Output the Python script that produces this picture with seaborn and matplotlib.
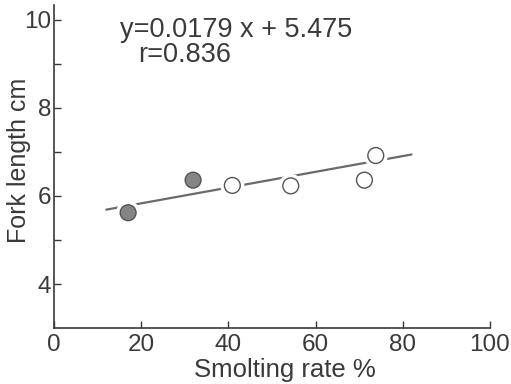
import numpy as np
import pandas as pd
import matplotlib
matplotlib.use("Agg")
import matplotlib.pyplot as plt
import seaborn as sns

# Data
smolting_rate = [17.0, 31.9, 40.9, 54.3, 71.2, 73.8]
fork_length = [5.62, 6.36, 6.24, 6.23, 6.36, 6.92]
group = ["filled", "filled", "open", "open", "open", "open"]

# Regression line as printed on the chart
slope = 0.0179
intercept = 5.475
fit_x = [12.0, 82.0]

x_ticks = [0, 20, 40, 60, 80, 100]
y_ticks = [4, 6, 8, 10]
y_minor = [5, 7, 9]

sns.set_style("ticks")
plt.rcParams["font.family"] = ["Liberation Sans", "DejaVu Sans"]

ink = "#3a3a3a"
df = pd.DataFrame({"rate": smolting_rate, "length": fork_length, "group": group})
fit = pd.DataFrame({"x": fit_x, "y": [slope * v + intercept for v in fit_x]})

fig = plt.figure(figsize=(5.11, 3.84), dpi=100)
ax = fig.add_axes([0.1057, 0.1458, 0.8532, 0.8412])

sns.lineplot(data=fit, x="x", y="y", color="#6a6a6a", linewidth=1.6, ax=ax, zorder=1)
# white halo under markers gives the broken line look
sns.scatterplot(data=df, x="rate", y="length", color="white", s=300,
                edgecolor="none", ax=ax, zorder=2, legend=False)
sns.scatterplot(data=df, x="rate", y="length", hue="group",
                palette={"filled": "#858585", "open": "white"},
                edgecolor="#555555", linewidth=1.0, s=130, ax=ax, zorder=3,
                legend=False)

ax.set_xlim(0, 100)
ax.set_ylim(3, 10.34)
ax.set_xticks(x_ticks)
ax.set_yticks(y_ticks)
ax.set_yticks(y_minor, minor=True)
ax.tick_params(axis="both", which="both", direction="in", length=5, width=1,
               color=ink, labelsize=17.5, labelcolor=ink)
ax.tick_params(axis="x", pad=4)
ax.tick_params(axis="y", pad=2)
sns.despine(ax=ax)
for s in ["left", "bottom"]:
    ax.spines[s].set_color(ink)
    ax.spines[s].set_linewidth(1.2)

ax.set_xlabel("Smolting rate %", fontsize=18.5, color=ink)
ax.set_ylabel("Fork length cm", fontsize=18, color=ink)
ax.xaxis.set_label_coords(0.53, -0.092)
ax.yaxis.set_label_coords(-0.052, 0.52)

ax.text(0.151, 0.962, "y=0.0179 x + 5.475", transform=ax.transAxes,
        fontsize=19.5, color=ink, va="top", ha="left")
ax.text(0.193, 0.884, "r=0.836", transform=ax.transAxes,
        fontsize=19.5, color=ink, va="top", ha="left")

fig.savefig("out.png", dpi=100)
